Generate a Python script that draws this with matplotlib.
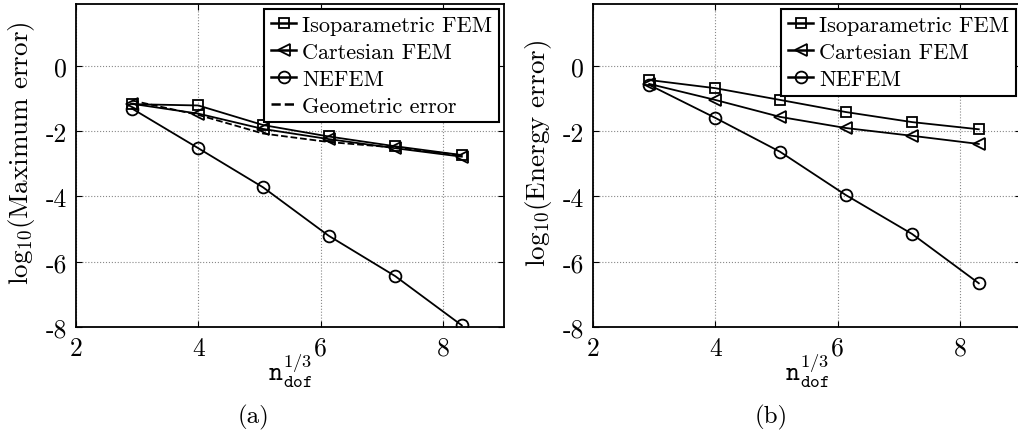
import matplotlib
matplotlib.use('Agg')
import matplotlib.pyplot as plt

plt.rcParams['font.family'] = 'cmr10'
plt.rcParams['mathtext.fontset'] = 'cm'
plt.rcParams['axes.unicode_minus'] = False
plt.rcParams['font.size'] = 16

# n_dof^(1/3)
ndof = [2.92, 4.0, 5.06, 6.13, 7.22, 8.31]

# (a) log10 of maximum error
max_iso = [-1.17, -1.21, -1.81, -2.16, -2.46, -2.73]
max_cart = [-1.16, -1.46, -1.93, -2.24, -2.52, -2.78]
max_nefem = [-1.31, -2.52, -3.72, -5.2, -6.44, -7.95]
max_geom = [-1.06, -1.5, -2.07, -2.33, -2.5, -2.74]

# (b) log10 of energy error
en_iso = [-0.43, -0.68, -1.04, -1.41, -1.72, -1.94]
en_cart = [-0.55, -1.04, -1.56, -1.9, -2.14, -2.39]
en_nefem = [-0.58, -1.59, -2.63, -3.95, -5.15, -6.66]

labels = ['Isoparametric FEM', 'Cartesian FEM', 'NEFEM', 'Geometric error']


def style_axes(ax, ylabel):
    ax.set_xlim(2, 9)
    ax.set_ylim(-8, 1.9)
    ax.set_xticks([2, 4, 6, 8])
    ax.set_yticks([-8, -6, -4, -2, 0])
    ax.grid(True, linestyle=':', color='#888888', linewidth=0.8)
    ax.tick_params(direction='in', top=True, right=True, length=4, pad=6.5,
                   labelsize=18.5)
    for s in ax.spines.values():
        s.set_linewidth(1.3)
    ax.set_xlabel(r'$\mathtt{n}_{\mathtt{dof}}^{1/3}$', fontsize=19)
    ax.set_ylabel(r'$\mathrm{log}_{10}$(' + ylabel + ')', fontsize=19.5)
    ax.xaxis.set_label_coords(0.5, -0.075)
    ax.yaxis.set_label_coords(-0.092, 0.54)


def draw(ax, iso, cart, nefem, geom=None):
    kw = dict(color='k', linewidth=1.3, markerfacecolor='none', markeredgewidth=1.3)
    ax.plot(ndof, iso, marker='s', markersize=7, label=labels[0], **kw)
    ax.plot(ndof, cart, marker='<', markersize=8.5, label=labels[1], **kw)
    ax.plot(ndof, nefem, marker='o', markersize=8.5, label=labels[2], **kw)
    if geom is not None:
        ax.plot(ndof, geom, linestyle='--', color='k', linewidth=1.3, label=labels[3])
    leg = ax.legend(loc='upper right', handlelength=1.15, handletextpad=0.27,
                    labelspacing=0.33, borderpad=0.3, borderaxespad=0.22,
                    fancybox=False, framealpha=1, edgecolor='k')
    leg.get_frame().set_linewidth(1.5)
    for line in leg.get_lines():
        line.set_linewidth(1.8)


fig = plt.figure(figsize=(10.18, 4.35), dpi=100)
W, H = 1018, 435
ax1 = fig.add_axes([76 / W, 1 - 328 / H, 428 / W, 323 / H])
ax2 = fig.add_axes([593 / W, 1 - 328 / H, 428 / W, 323 / H])

draw(ax1, max_iso, max_cart, max_nefem, max_geom)
style_axes(ax1, 'Maximum error')
draw(ax2, en_iso, en_cart, en_nefem)
style_axes(ax2, 'Energy error')

fig.text(254 / W, 1 - 417 / H, '(a)', ha='center', va='center', fontsize=18)
fig.text(771 / W, 1 - 417 / H, '(b)', ha='center', va='center', fontsize=18)

fig.savefig('out.png', dpi=100)
